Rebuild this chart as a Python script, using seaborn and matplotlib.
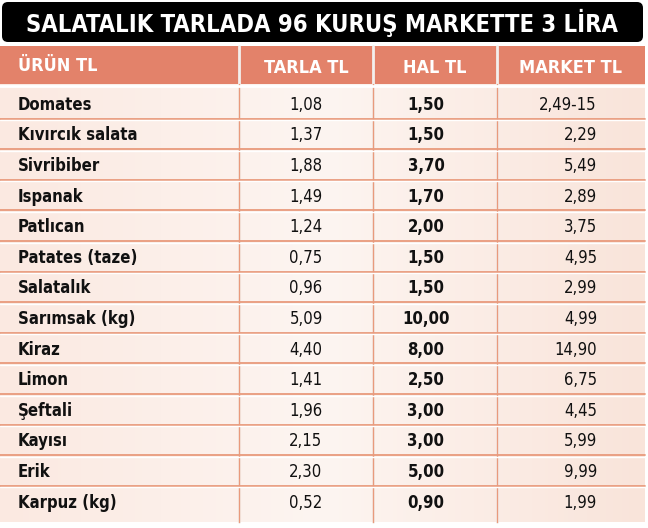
import matplotlib
matplotlib.use("Agg")
import matplotlib.pyplot as plt
import seaborn as sns
import numpy as np
from matplotlib.patches import Rectangle, FancyBboxPatch

title = "SALATALIK TARLADA 96 KURUŞ MARKETTE 3 LİRA"
headers = ["ÜRÜN TL", "TARLA TL", "HAL TL", "MARKET TL"]
products = ["Domates", "Kıvırcık salata", "Sivribiber", "Ispanak", "Patlıcan",
            "Patates (taze)", "Salatalık", "Sarımsak (kg)", "Kiraz", "Limon",
            "Şeftali", "Kayısı", "Erik", "Karpuz (kg)"]
tarla = ["1,08", "1,37", "1,88", "1,49", "1,24", "0,75", "0,96", "5,09",
         "4,40", "1,41", "1,96", "2,15", "2,30", "0,52"]
hal = ["1,50", "1,50", "3,70", "1,70", "2,00", "1,50", "1,50", "10,00",
       "8,00", "2,50", "3,00", "3,00", "5,00", "0,90"]
market = ["2,49-15", "2,29", "5,49", "2,89", "3,75", "4,95", "2,99", "4,99",
          "14,90", "6,75", "4,45", "5,99", "9,99", "1,99"]

sns.set_theme(style="white")
plt.rcParams['font.family'] = ['DejaVu Sans']

W, H = 648, 528
fig = plt.figure(figsize=(6.48, 5.28), dpi=100)
ax = fig.add_axes([0, 0, 1, 1])
ax.set_xlim(0, W)
ax.set_ylim(H, 0)
ax.axis("off")

# background gradient (pink left -> whiter right)
grad = np.linspace(0, 1, 200)[None, :]
cmap = matplotlib.colors.LinearSegmentedColormap.from_list("bg", ["#fbe9e1", "#fdf5f1", "#f9e4da"])
ax.imshow(grad, extent=[0, 645, 522, 84], cmap=cmap, aspect="auto", zorder=0)

# title bar
ax.add_patch(FancyBboxPatch((2, 2), 641, 40, boxstyle="round,pad=0,rounding_size=6",
                            fc="black", ec="none", zorder=1))
ax.text(322, 23, title, color="white", fontsize=17, fontweight="bold",
        fontstretch="condensed", ha="center", va="center", zorder=2)

col_edges = [0, 239, 373, 497, 645]
line_c = "#e99a7c"
hdr_top, hdr_bot = 46, 84
ax.add_patch(Rectangle((0, hdr_top), 645, hdr_bot - hdr_top, fc="#e3826a", ec="none", zorder=1))
for i, h in enumerate(headers):
    if i == 0:
        ax.text(18, 66, h, color="white", fontsize=13, fontweight="bold",
                fontstretch="condensed", ha="left", va="center", zorder=2)
    else:
        ax.text((col_edges[i] + col_edges[i + 1]) / 2, 68, h, color="white", fontsize=13,
                fontweight="bold", fontstretch="condensed", ha="center", va="center", zorder=2)

row_top, row_h = 88, 30.6
n = len(products)
for x in col_edges[1:-1]:
    ax.plot([x, x], [hdr_top, 522], color="#f3f0ee", lw=2, zorder=1.5)
    ax.plot([x, x], [hdr_bot, 522], color=line_c, lw=1, zorder=1.5)
ax.plot([0, 645], [hdr_bot + 1.5, hdr_bot + 1.5], color="white", lw=2, zorder=1.5)
for r in range(1, n):
    y = row_top + r * row_h
    ax.plot([0, 645], [y, y], color=line_c, lw=1.3, zorder=1.5)
    ax.plot([0, 645], [y + 1.5, y + 1.5], color="white", lw=1, zorder=1.5)

for r in range(n):
    yc = row_top + (r + 0.55) * row_h
    ax.text(18, yc, products[r], fontsize=12, fontweight="bold", fontstretch="condensed",
            ha="left", va="center", color="#111111", zorder=2)
    ax.text(306, yc, tarla[r], fontsize=12, fontstretch="condensed",
            ha="center", va="center", color="#111111", zorder=2)
    ax.text(426, yc, hal[r], fontsize=12, fontweight="bold", fontstretch="condensed",
            ha="center", va="center", color="#111111", zorder=2)
    ax.text(597, yc, market[r], fontsize=12, fontstretch="condensed",
            ha="right", va="center", color="#111111", zorder=2)

fig.savefig("out.png", dpi=100, facecolor="white")
